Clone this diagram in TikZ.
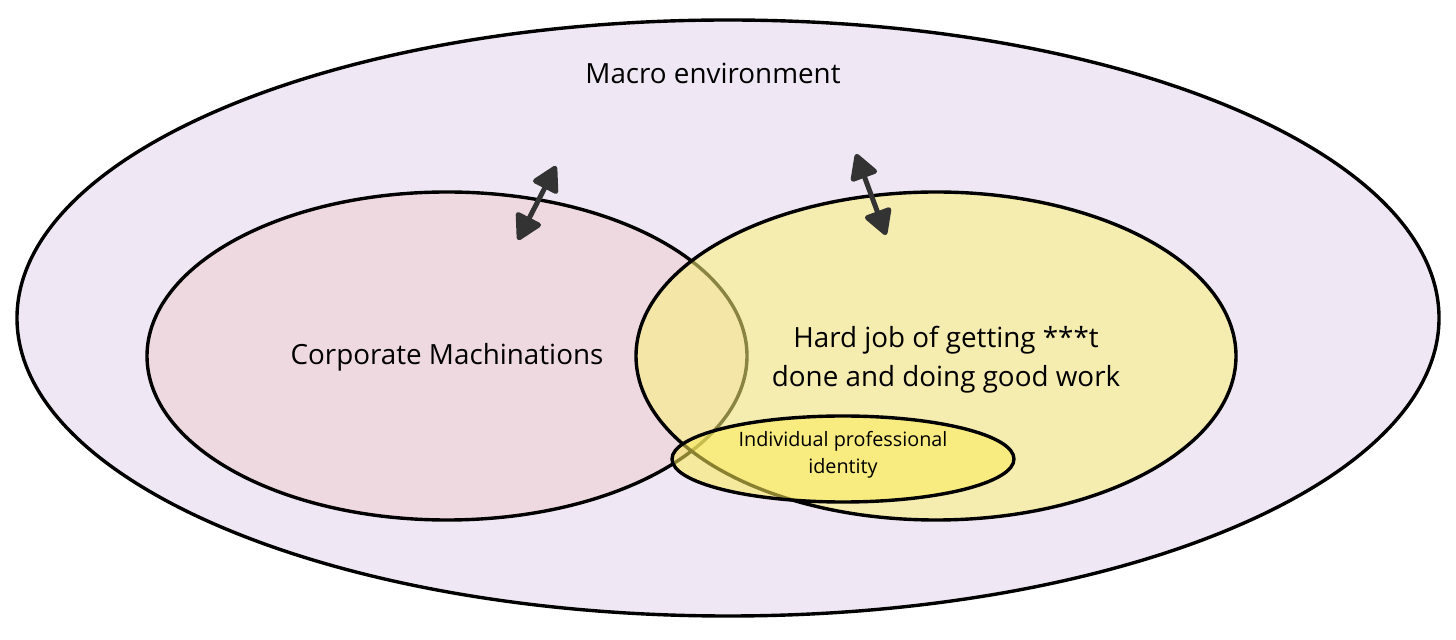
\documentclass[tikz,border=0pt]{standalone}
\usepackage{fontspec}
\setmainfont{Open Sans}
\usetikzlibrary{shapes.geometric, arrows.meta, positioning}

\definecolor{macrofill}{RGB}{239,232,244}
\definecolor{corpfill}{RGB}{238,217,224}
\definecolor{jobfill}{RGB}{250,241,120}
\definecolor{selffill}{RGB}{251,235,89}
\definecolor{arrowgray}{RGB}{51,51,51}

\tikzset{
  blob/.style={ellipse, draw=black, line width=1.7pt, inner sep=0pt},
  label text/.style={font=\fontsize{13.9}{19.5}\selectfont, align=center},
  small text/.style={font=\fontsize{9.9}{13.5}\selectfont, align=center},
  link/.style={arrowgray, line width=2.5pt, {Triangle[length=14pt,width=15pt,round]}-{Triangle[length=14pt,width=15pt,round]}}
}

\begin{document}
\begin{tikzpicture}[x=0.5pt, y=-0.5pt]
            \useasboundingbox (0,0) rectangle (1456,640);
            \node[blob, fill=macrofill, minimum width=711pt, minimum height=298pt] (macro) at (728,318) {};
            \node[blob, fill=corpfill, minimum width=300pt, minimum height=164pt] (corp) at (447,356) {};
            \node[blob, fill=jobfill, fill opacity=0.55, minimum width=300pt, minimum height=164pt] (job) at (936,356) {};
            \node[blob, fill=selffill, fill opacity=0.55, minimum width=171pt, minimum height=43pt] (self) at (843,459) {};
            \node[label text] (macrotext) at (713,73) {Macro environment};
            \node[label text] (corptext) at (447,357) {Corporate Machinations};
            \node[label text] (jobtext) at (946,360) {Hard job of getting ***t\\done and doing good work};
            \node[small text] (selftext) at (843,455) {Individual professional\\identity};
            \coordinate (corpin) at (518,240);
            \coordinate (corpout) at (556,166);
            \coordinate (jobout) at (856,154);
            \coordinate (jobin) at (886,235);
            \draw[link] (corpin) -- (corpout);
            \draw[link] (jobout) -- (jobin);
        \end{tikzpicture}
\end{document}
